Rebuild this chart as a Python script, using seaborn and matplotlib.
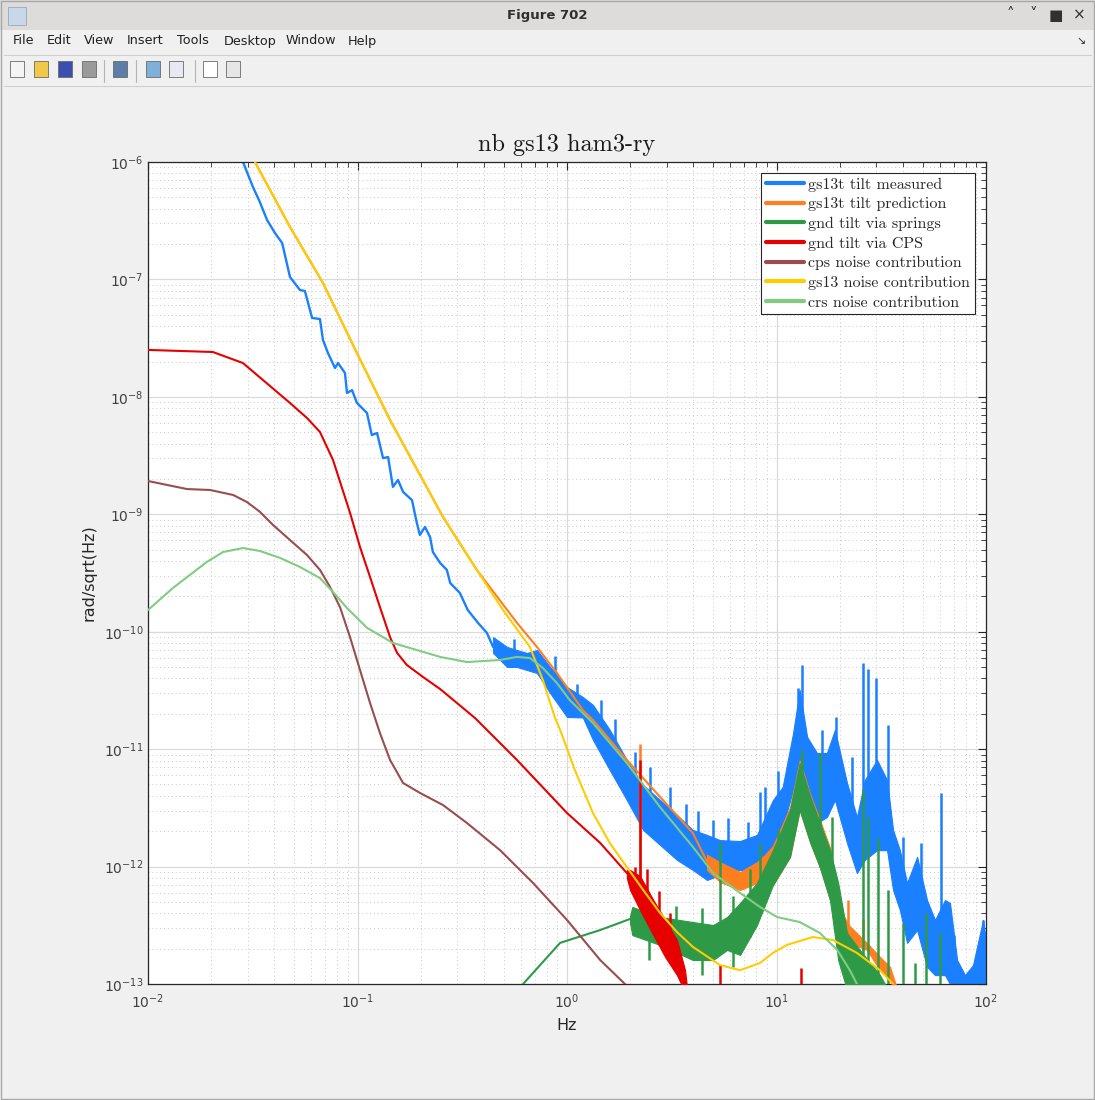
"""
nb gs13 ham3-ry: tilt spectra (measured, predicted and noise budget terms),
drawn inside a mock MATLAB figure window.
"""

import matplotlib
matplotlib.use('Agg')
import numpy as np
import matplotlib.pyplot as plt
import seaborn as sns
from matplotlib.patches import Rectangle
from matplotlib.lines import Line2D
from matplotlib.ticker import LogLocator, NullFormatter, FixedLocator

# ---- data ----
# gs13t tilt measured: low-frequency trace + noisy band + spikes
meas_f = [0.0284, 0.0317, 0.0342, 0.0370, 0.0404, 0.0437, 0.0476, 0.0531, 0.0561,
          0.0607, 0.0662, 0.0684, 0.0723, 0.0781, 0.0807, 0.0871, 0.0891, 0.0942,
          0.0994, 0.111, 0.117, 0.124, 0.1324, 0.140, 0.1476, 0.156, 0.165, 0.182,
          0.192, 0.1986, 0.210, 0.222, 0.229, 0.248, 0.267, 0.277, 0.308, 0.336,
          0.376, 0.415, 0.444]
meas_v = [1e-6, 6.12e-7, 4.56e-7, 3.21e-7, 2.48e-7, 2.04e-7, 1.05e-7, 8.13e-8, 7.97e-8,
          4.70e-8, 4.60e-8, 3.05e-8, 2.36e-8, 1.76e-8, 1.94e-8, 1.60e-8, 1.08e-8, 1.14e-8,
          8.87e-9, 7.29e-9, 4.73e-9, 4.92e-9, 3.01e-9, 3.07e-9, 1.71e-9, 1.96e-9, 1.55e-9,
          1.32e-9, 8.43e-10, 6.67e-10, 7.80e-10, 6.41e-10, 4.77e-10, 3.85e-10, 3.36e-10,
          2.60e-10, 2.14e-10, 1.53e-10, 1.19e-10, 9.75e-11, 7.41e-11]
meas_band_f = [0.444, 0.518, 0.577, 0.644, 0.719, 0.830, 1.0, 1.19, 1.33, 1.60, 1.93,
               2.31, 2.78, 3.35, 3.99, 4.66, 5.37, 6.70, 8.07, 9.62, 10.7, 12.0, 12.9,
               14.0, 15.6, 17.4, 19.0, 21.7, 24.2, 26.4, 30.2, 33.7, 36.0, 38.8, 42.0,
               46.9, 52.3, 57.1, 63.7, 67.3, 72.8, 79.4, 86.7, 96.8, 100.0]
meas_band_lo = [6.59e-11, 5.01e-11, 5.01e-11, 4.72e-11, 4.45e-11, 3.01e-11, 1.88e-11,
                1.86e-11, 1.20e-11, 6.64e-12, 3.69e-12, 2.05e-12, 1.53e-12, 1.14e-12,
                9.35e-13, 7.69e-13, 8.48e-13, 9.35e-13, 9.35e-13, 1.38e-12, 2.17e-12,
                4.49e-12, 6.64e-12, 5.15e-12, 2.35e-12, 2.64e-12, 3.69e-12, 1.59e-12,
                8.81e-13, 1.14e-12, 1.38e-12, 1.38e-12, 6.32e-13, 4.27e-13, 2.24e-13,
                2.88e-13, 1.40e-13, 1.19e-13, 1.19e-13, 1.0e-13, 8.05e-14, 8.05e-14,
                8.05e-14, 8.05e-14, 8.0e-14]
meas_band_hi = [9.0e-11, 7.41e-11, 6.98e-11, 6.59e-11, 6.98e-11, 5.01e-11, 3.38e-11,
                2.78e-11, 2.38e-11, 1.46e-11, 8.09e-12, 4.95e-12, 3.69e-12, 2.75e-12,
                2.05e-12, 1.86e-12, 1.68e-12, 1.65e-12, 1.86e-12, 3.69e-12, 4.76e-12,
                1.37e-11, 3.19e-11, 1.27e-11, 9.27e-12, 9.27e-12, 1.46e-11, 5.15e-12,
                2.64e-12, 5.46e-12, 8.09e-12, 5.46e-12, 2.05e-12, 1.38e-12, 7.24e-13,
                1.21e-12, 5.19e-13, 3.51e-13, 5.19e-13, 4.90e-13, 1.60e-13, 1.19e-13,
                1.45e-13, 3.51e-13, 2.37e-13]
meas_spike_f = [0.56, 0.88, 1.12, 1.45, 1.7, 2.1, 2.5, 3.1, 3.7, 4.2, 5.0, 5.9, 7.3,
                8.34, 8.81, 10.2, 12.7, 13.2, 16.5, 19.3, 23.0, 25.9, 27.2, 29.9, 34.0,
                40.2, 49.0, 61.0, 70.0, 96.8]
meas_spike_lo = [5.5e-11, 3.5e-11, 2.2e-11, 1.4e-11, 8e-12, 5e-12, 3e-12, 2e-12, 1.5e-12,
                 1.2e-12, 1e-12, 1e-12, 1e-12, 1.2e-12, 1.2e-12, 2.5e-12, 6e-12, 8e-12,
                 3e-12, 5e-12, 1.5e-12, 1.5e-12, 1.5e-12, 2e-12, 2e-12, 6e-13, 3e-13,
                 2e-13, 1e-13, 1e-13]
meas_spike_hi = [8.6e-11, 6.2e-11, 3.6e-11, 2.6e-11, 1.8e-11, 9.5e-12, 7e-12, 4.8e-12,
                 3.4e-12, 3.0e-12, 2.5e-12, 2.6e-12, 2.4e-12, 4.32e-12, 4.76e-12, 6.5e-12,
                 3.32e-11, 5.21e-11, 1.45e-11, 1.88e-11, 8.5e-12, 5.42e-11, 4.82e-11,
                 4.03e-11, 1.61e-11, 1.79e-12, 1.6e-12, 4.24e-12, 2.6e-13, 3.51e-13]

# gs13t tilt prediction
pred_f = [0.0324, 0.0476, 0.0684, 0.0994, 0.143, 0.256, 0.371, 0.577, 0.719, 0.895,
          1.19, 1.33, 1.93, 2.78, 3.99, 4.66]
pred_v = [1e-6, 2.80e-7, 9.33e-8, 2.36e-8, 6.35e-9, 9.48e-10, 3.36e-10, 1.19e-10,
          7.41e-11, 4.45e-11, 2.15e-11, 1.77e-11, 8.09e-12, 3.92e-12, 1.93e-12, 1.1e-12]
pred_band_f = [4.66, 5.37, 6.70, 8.07, 8.81, 9.62, 11.6, 12.9, 14.5, 16.1, 18.0, 20.1,
               22.4, 27.0, 31.2, 34.8, 37.0]
pred_band_lo = [9.35e-13, 7.4e-13, 6.32e-13, 7.24e-13, 9.9e-13, 6.97e-13, 1.21e-12,
                3.03e-12, 1.59e-12, 9.9e-13, 5.19e-13, 3.12e-13, 2.24e-13, 1.95e-13,
                1.31e-13, 1.08e-13, 8.5e-14]
pred_band_hi = [1.26e-12, 1.09e-12, 8.99e-13, 1.09e-12, 1.26e-12, 1.5e-12, 3.2e-12,
                8.0e-12, 4.1e-12, 2.5e-12, 1.45e-12, 4.27e-13, 3.1e-13, 2.24e-13,
                1.70e-13, 1.40e-13, 1.0e-13]
pred_spike_f = [2.23, 19.0, 22.0, 26.0]
pred_spike_lo = [8e-13, 3e-13, 2.4e-13, 1.9e-13]
pred_spike_hi = [1.11e-11, 6.5e-13, 5.2e-13, 3.6e-13]

# gnd tilt via springs
spring_f = [0.565, 0.617, 0.927, 1.44, 2.0]
spring_v = [8.5e-14, 1.0e-13, 2.24e-13, 2.88e-13, 3.58e-13]
spring_band_f = [2.0, 2.05, 2.78, 3.99, 4.98, 5.81, 6.70, 8.07, 9.62, 11.6, 12.9, 14.5,
                 16.1, 18.0, 19.7, 21.7, 25.0, 31.2, 34.0]
spring_band_lo = [3.3e-13, 2.61e-13, 2.15e-13, 1.60e-13, 1.60e-13, 1.95e-13, 1.77e-13,
                  3.18e-13, 6.97e-13, 1.21e-12, 3.03e-12, 1.59e-12, 9.9e-13, 5.19e-13,
                  1.60e-13, 8.9e-14, 8.05e-14, 8.05e-14, 8.0e-14]
spring_band_hi = [3.8e-13, 4.53e-13, 3.72e-13, 3.37e-13, 3.18e-13, 3.72e-13, 4.90e-13,
                  7.24e-13, 1.38e-12, 3.03e-12, 7.62e-12, 3.92e-12, 2.35e-12, 1.38e-12,
                  7.24e-13, 2.72e-13, 1.95e-13, 1.19e-13, 9.0e-14]
spring_spike_f = [2.45, 3.3, 4.4, 5.37, 6.2, 7.5, 8.34, 10.2, 13.2, 16.1, 18.4, 25.9,
                  27.2, 30.6, 34.0, 40.2, 45.8, 51.7, 60.3]
spring_spike_lo = [1.6e-13, 1.4e-13, 1.2e-13, 2e-13, 1.4e-13, 2.5e-13, 4e-13, 9e-13,
                   3e-12, 1e-12, 5e-13, 8e-14, 8e-14, 8e-14, 8e-14, 8e-14, 8e-14, 8e-14,
                   8e-14]
spring_spike_hi = [5.6e-13, 4.6e-13, 4.4e-13, 1.59e-12, 5.6e-13, 9.5e-13, 1.59e-12,
                   2.05e-12, 9.84e-12, 9.27e-12, 2.64e-12, 4.49e-12, 2.64e-12, 1.75e-12,
                   6.32e-13, 3.31e-13, 1.51e-13, 4.03e-13, 2.72e-13]

# gnd tilt via CPS
cps_f = [0.01, 0.0204, 0.0284, 0.0354, 0.0476, 0.0574, 0.0662, 0.0764, 0.0921, 0.1028,
         0.1148, 0.128, 0.143, 0.1546, 0.172, 0.2056, 0.248, 0.364, 0.577, 1.0, 1.44, 1.93]
cps_v = [2.51e-8, 2.41e-8, 1.94e-8, 1.39e-8, 8.87e-9, 6.61e-9, 5.02e-9, 2.90e-9, 1.03e-9,
         5.26e-10, 2.92e-10, 1.62e-10, 9.0e-11, 6.59e-11, 5.21e-11, 4.11e-11, 3.25e-11,
         1.84e-11, 8.09e-12, 2.86e-12, 1.59e-12, 8.81e-13]
cps_band_f = [1.93, 2.0, 2.23, 2.55, 2.94, 3.35, 3.66, 3.75]
cps_band_lo = [8.0e-13, 6.32e-13, 4.27e-13, 2.72e-13, 1.70e-13, 1.19e-13, 8.5e-14, 8e-14]
cps_band_hi = [9.3e-13, 9.35e-13, 8.32e-13, 5.40e-13, 3.51e-13, 2.37e-13, 1.31e-13, 9e-14]
cps_spike_f = [2.1, 2.23, 2.4, 2.75, 3.1, 5.37, 13.1]
cps_spike_lo = [6e-13, 8e-13, 4e-13, 2.5e-13, 1.6e-13, 8e-14, 8e-14]
cps_spike_hi = [1.0e-12, 8.09e-12, 9.5e-13, 6.2e-13, 4.0e-13, 1.45e-13, 1.37e-13]

# cps noise contribution
cpsn_f = [0.01, 0.01535, 0.0198, 0.0255, 0.0297, 0.0342, 0.0395, 0.0476, 0.0574, 0.0662,
          0.0740, 0.0825, 0.0921, 0.1028, 0.1148, 0.128, 0.143, 0.165, 0.1986, 0.256,
          0.333, 0.479, 0.689, 1.0, 1.44, 1.89, 2.1]
cpsn_v = [1.92e-9, 1.64e-9, 1.61e-9, 1.46e-9, 1.27e-9, 1.05e-9, 8.11e-10, 6.04e-10,
          4.50e-10, 3.36e-10, 2.40e-10, 1.62e-10, 9.0e-11, 4.72e-11, 2.47e-11, 1.37e-11,
          8.09e-12, 5.15e-12, 4.24e-12, 3.34e-12, 2.35e-12, 1.38e-12, 7.24e-13, 3.51e-13,
          1.60e-13, 1.0e-13, 8.5e-14]

# gs13 noise contribution
gs13_f = [0.0324, 0.0476, 0.0684, 0.0994, 0.143, 0.256, 0.371, 0.495, 0.665, 0.767,
          0.877, 0.927, 1.09, 1.33, 1.60, 1.93, 2.31, 2.78, 3.35, 3.99, 5.37, 6.70, 8.34,
          9.62, 11.2, 14.9, 18.6, 24.2, 31.2, 36.0, 37.6]
gs13_v = [1e-6, 2.80e-7, 9.33e-8, 2.36e-8, 6.35e-9, 9.48e-10, 3.36e-10, 1.53e-10,
          7.41e-11, 3.88e-11, 1.84e-11, 1.46e-11, 6.64e-12, 2.86e-12, 1.59e-12, 9.9e-13,
          6.32e-13, 4.03e-13, 2.77e-13, 2.07e-13, 1.45e-13, 1.31e-13, 1.51e-13, 1.84e-13,
          2.15e-13, 2.51e-13, 2.37e-13, 1.84e-13, 1.31e-13, 1.0e-13, 8.8e-14]

# crs noise contribution
crs_f = [0.01, 0.01316, 0.0191, 0.0228, 0.0284, 0.0342, 0.0427, 0.0531, 0.0662, 0.0764,
         0.0891, 0.111, 0.1476, 0.248, 0.333, 0.479, 0.577, 0.665, 0.767, 0.895, 1.03,
         1.33, 1.93, 2.78, 3.99, 4.98, 6.70, 8.34, 10.05, 12.9, 16.1, 19.5, 22.4, 24.2, 25.6]
crs_v = [1.53e-10, 2.36e-10, 3.93e-10, 4.77e-10, 5.16e-10, 4.87e-10, 4.25e-10, 3.56e-10,
         2.86e-10, 2.18e-10, 1.59e-10, 1.08e-10, 8.02e-11, 6.10e-11, 5.52e-11, 5.74e-11,
         6.10e-11, 5.97e-11, 4.91e-11, 3.66e-11, 2.62e-11, 1.67e-11, 7.62e-12, 3.21e-12,
         1.47e-12, 8.81e-13, 5.96e-13, 4.53e-13, 3.72e-13, 3.37e-13, 2.72e-13, 1.95e-13,
         1.31e-13, 1.0e-13, 8.5e-14]

X_TICKS = [1e-2, 1e-1, 1e0, 1e1, 1e2]
Y_TICKS = [1e-13, 1e-12, 1e-11, 1e-10, 1e-9, 1e-8, 1e-7, 1e-6]

LABELS = ['gs13t tilt measured', 'gs13t tilt prediction', 'gnd tilt via springs',
          'gnd tilt via CPS', 'cps noise contribution', 'gs13 noise contribution',
          'crs noise contribution']
COLORS = ['#1a80ff', '#ff7f1f', '#2e9a47', '#e60000', '#994d4d', '#ffcc00', '#80cc80']
MENU = ['File', 'Edit', 'View', 'Insert', 'Tools', 'Desktop', 'Window', 'Help']
MENU_X = [13, 47, 84, 127, 177, 224, 286, 348]

W, H = 1095, 1100


def px(x, y):
    # pixel position in window -> figure fraction
    return x / W, 1 - y / H


def draw_window(fig):
    fig.patch.set_facecolor('#f0f0f0')
    fig.add_artist(Rectangle(px(0, 30), 1, 30 / H, transform=fig.transFigure,
                             facecolor='#dedcda', edgecolor='none', zorder=0))
    fig.text(*px(547, 15), 'Figure 702', ha='center', va='center', fontsize=9.5,
             fontweight='bold', color='#2e2e2e')
    for x, s in zip([1010, 1033, 1056, 1079], ['\u02c4', '\u02c5', '\u25a0', '\u00d7']):
        fig.text(*px(x, 15), s, ha='center', va='center', fontsize=11, color='#303030')
    # matlab logo placeholder
    fig.add_artist(Rectangle(px(8, 25), 18 / W, 18 / H, transform=fig.transFigure,
                             facecolor='#c8d8ea', edgecolor='#9aa8b8', lw=0.6))
    for x, s in zip(MENU_X, MENU):
        fig.text(*px(x, 41), s, ha='left', va='center', fontsize=9.2, color='#202020')
    fig.text(*px(1081, 41), '\u2198', ha='center', va='center', fontsize=8, color='#303030')
    for y in [55, 86]:
        fig.add_artist(Line2D([0.004, 0.996], [1 - y / H] * 2, transform=fig.transFigure,
                              color='#cfcfcf', lw=0.8))
    # toolbar buttons (placeholders)
    icon_cols = ['#f4f4f4', '#f2c84b', '#3b4fb0', '#9a9a9a', '#5c7ea8', '#7fb0d8',
                 '#e8e8f2', '#ffffff', '#e6e6e6']
    for x, c in zip([17, 41, 65, 89, 120, 153, 176, 210, 233], icon_cols):
        fig.add_artist(Rectangle(px(x - 7, 77), 14 / W, 16 / H, transform=fig.transFigure,
                                 facecolor=c, edgecolor='#6a6a6a', lw=0.6))
    for x in [104, 136, 195]:
        fig.add_artist(Line2D([x / W] * 2, [1 - 60 / H, 1 - 82 / H],
                              transform=fig.transFigure, color='#b4b4b4', lw=0.8))
    fig.add_artist(Rectangle((0.0005, 0.0005), 0.999, 0.999, transform=fig.transFigure,
                             fill=False, edgecolor='#a8a8a8', lw=1.0))


def draw_trace(ax, f, v, color, z, lw=1.5):
    sns.lineplot(x=f, y=v, ax=ax, color=color, lw=lw, estimator=None, sort=False,
                 zorder=z)


def draw_band(ax, f, lo, hi, color, z):
    ax.fill_between(f, lo, hi, color=color, lw=0.8, edgecolor=color, zorder=z)


def main():
    sns.set_style('white')
    plt.rcParams['font.family'] = ['DejaVu Sans']

    fig = plt.figure(figsize=(W / 100, H / 100), dpi=100)
    draw_window(fig)

    ax = fig.add_axes([148 / W, 116 / H, 838 / W, 822 / H])
    ax.set_facecolor('white')
    ax.set_xscale('log')
    ax.set_yscale('log')

    c = COLORS
    # measured
    draw_trace(ax, meas_f, meas_v, c[0], 2, lw=1.7)
    draw_band(ax, meas_band_f, meas_band_lo, meas_band_hi, c[0], 2)
    ax.vlines(meas_spike_f, meas_spike_lo, meas_spike_hi, color=c[0], lw=1.8, zorder=2)
    # prediction
    draw_trace(ax, pred_f, pred_v, c[1], 3)
    draw_band(ax, pred_band_f, pred_band_lo, pred_band_hi, c[1], 3)
    ax.vlines(pred_spike_f, pred_spike_lo, pred_spike_hi, color=c[1], lw=1.8, zorder=3)
    # springs
    draw_trace(ax, spring_f, spring_v, c[2], 4)
    draw_band(ax, spring_band_f, spring_band_lo, spring_band_hi, c[2], 4)
    ax.vlines(spring_spike_f, spring_spike_lo, spring_spike_hi, color=c[2], lw=1.8,
              zorder=4)
    # cps
    draw_trace(ax, cps_f, cps_v, c[3], 5)
    draw_band(ax, cps_band_f, cps_band_lo, cps_band_hi, c[3], 5)
    ax.vlines(cps_spike_f, cps_spike_lo, cps_spike_hi, color=c[3], lw=1.8, zorder=5)
    # noise terms
    draw_trace(ax, cpsn_f, cpsn_v, c[4], 6)
    draw_trace(ax, gs13_f, gs13_v, c[5], 7)
    draw_trace(ax, crs_f, crs_v, c[6], 8)

    ax.set_xlim(1e-2, 1e2)
    ax.set_ylim(1e-13, 1e-6)

    # ticks, grid, box (major ticks only inside the limits)
    ax.xaxis.set_major_locator(FixedLocator(X_TICKS))
    ax.yaxis.set_major_locator(FixedLocator(Y_TICKS))
    for axis in [ax.xaxis, ax.yaxis]:
        axis.set_minor_locator(LogLocator(base=10, subs=np.arange(2, 10), numticks=12))
        axis.set_minor_formatter(NullFormatter())
    ax.tick_params(which='both', direction='in', top=True, right=True,
                   color='#262626', labelcolor='#404040', labelsize=10)
    ax.tick_params(axis='x', which='major', pad=6)
    ax.tick_params(which='major', length=6, width=0.8)
    ax.tick_params(which='minor', length=3.5, width=0.6)
    ax.grid(which='major', color='#dadada', lw=0.9, ls='-', zorder=0)
    ax.grid(which='minor', color='#c8c8c8', lw=0.7, ls=(0, (1, 3)), zorder=0)
    ax.set_axisbelow(True)
    for s in ax.spines.values():
        s.set_color('#262626')
        s.set_linewidth(0.9)

    ax.set_xlabel('Hz', fontsize=11.5, color='#262626', labelpad=5)
    ax.set_ylabel('rad/sqrt(Hz)', fontsize=11.5, color='#262626')
    ax.yaxis.set_label_coords(-0.061, 0.5)
    ax.set_title('nb gs13 ham3-ry', family='cmr10', fontsize=17.5, color='#1a1a1a', pad=8)

    handles = [Line2D([], [], color=col, lw=3) for col in COLORS]
    leg = ax.legend(handles, LABELS, loc='upper right', bbox_to_anchor=(0.987, 0.987),
                    prop={'family': 'cmr10', 'size': 11.5}, frameon=True, fancybox=False,
                    edgecolor='#262626', framealpha=1, borderaxespad=0, handlelength=2.35,
                    handletextpad=0.3, labelspacing=0.34, borderpad=0.3)
    leg.get_frame().set_linewidth(0.8)
    leg.set_zorder(20)

    fig.savefig('out.png', dpi=100, facecolor=fig.get_facecolor())


if __name__ == '__main__':
    main()
